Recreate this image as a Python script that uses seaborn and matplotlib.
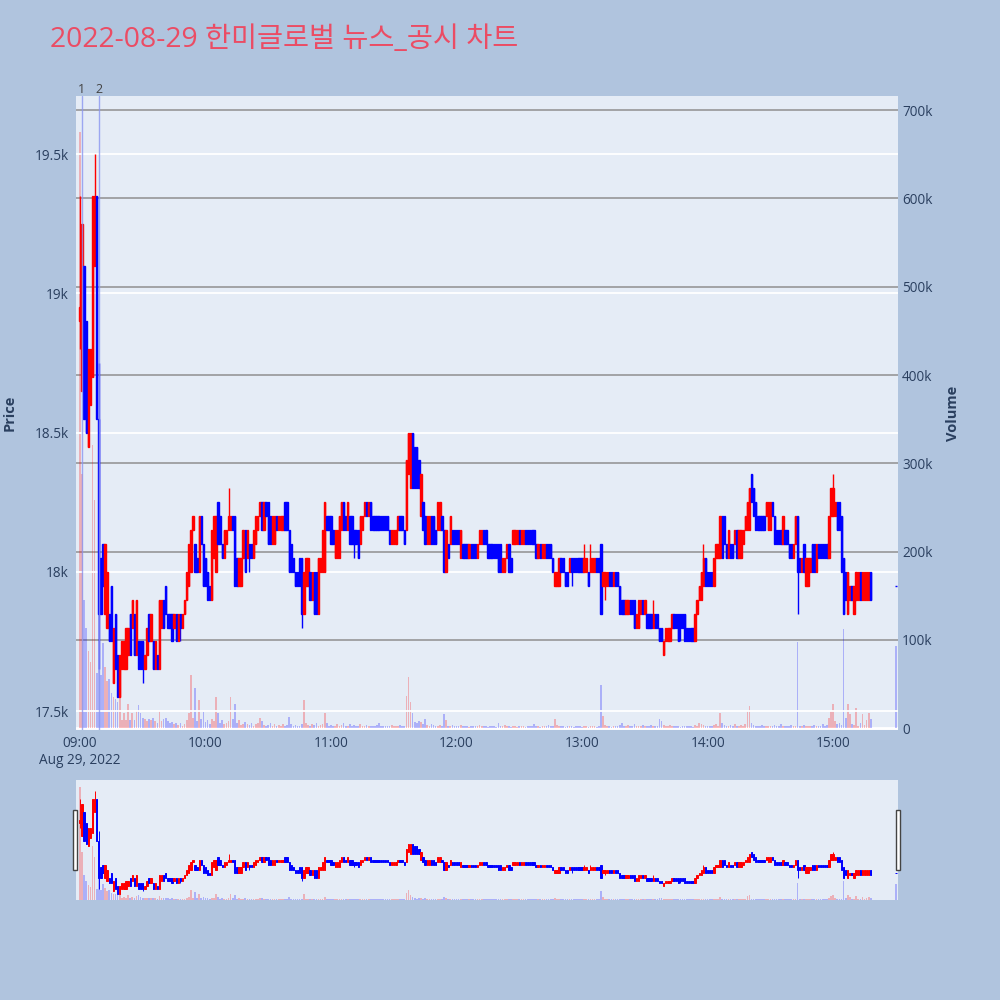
import numpy as np
import pandas as pd
import seaborn as sns
import matplotlib.pyplot as plt
from matplotlib.patches import Rectangle
import matplotlib.transforms as mtransforms

# minute candles from 09:00, prices in KRW
opens = [
    18900, 18650, 19100, 18900, 18450, 18600, 18700, 19100, 19350, 18550,
    18050, 18100, 17850, 17800, 17850, 17950, 17600, 17850, 17700, 17550,
    17650, 17650, 17650, 17700, 17850, 17800, 17850, 17700, 17750, 17750,
    17750, 17650, 17700, 17850, 17750, 17750, 17650, 17700, 17650, 17800,
    17900, 17950, 17850, 17850, 17850, 17800, 17850, 17750, 17850, 17800,
    17850, 17900, 17950, 18000, 18150, 18100, 18050, 18000, 18200, 18100,
    18050, 18000, 17950, 17900, 18050, 18000, 18250, 18200, 18100, 18050,
    18100, 18150, 18150, 18200, 18200, 18050, 17950, 17950, 18050, 18150,
    18050, 18100, 18100, 18050, 18100, 18150, 18200, 18250, 18150, 18250,
    18250, 18200, 18100, 18100, 18200, 18150, 18150, 18150, 18250, 18250,
    18150, 18100, 18050, 18000, 18000, 18050, 18050, 17850, 17950, 17950,
    18000, 17900, 18000, 18000, 17850, 18000, 18000, 18000, 18200, 18200,
    18200, 18150, 18050, 18050, 18050, 18150, 18250, 18200, 18150, 18200,
    18200, 18150, 18150, 18150, 18100, 18150, 18200, 18250, 18200, 18250,
    18200, 18200, 18200, 18200, 18200, 18200, 18200, 18200, 18150, 18100,
    18100, 18100, 18150, 18200, 18200, 18150, 18150, 18350, 18300, 18500,
    18450, 18450, 18400, 18200, 18250, 18200, 18100, 18100, 18200, 18200,
    18150, 18150, 18150, 18200, 18150, 18000, 18100, 18100, 18150, 18150,
    18150, 18150, 18050, 18100, 18100, 18100, 18050, 18100, 18100, 18100,
    18050, 18100, 18100, 18150, 18150, 18100, 18100, 18100, 18100, 18100,
    18100, 18100, 18000, 18000, 18050, 18100, 18050, 18100, 18100, 18100,
    18150, 18100, 18100, 18150, 18150, 18150, 18150, 18150, 18100, 18050,
    18100, 18050, 18050, 18100, 18100, 18100, 18050, 17950, 17950, 17950,
    18050, 18050, 18000, 18000, 18000, 18050, 18050, 18050, 18050, 18050,
    18050, 18000, 18000, 18000, 18000, 18000, 18000, 18050, 18050, 18100,
    17950, 17950, 17950, 18000, 18000, 17950, 18000, 18000, 17950, 17900,
    17900, 17850, 17850, 17900, 17900, 17900, 17800, 17800, 17850, 17900,
    17850, 17850, 17850, 17850, 17800, 17850, 17850, 17800, 17800, 17700,
    17750, 17750, 17750, 17800, 17850, 17850, 17850, 17850, 17850, 17850,
    17800, 17800, 17800, 17800, 17750, 17850, 17900, 17900, 17950, 18050,
    18000, 18000, 18000, 17950, 18050, 18050, 18050, 18200, 18200, 18100,
    18050, 18100, 18100, 18100, 18150, 18050, 18050, 18100, 18150, 18150,
    18150, 18350, 18300, 18250, 18200, 18200, 18200, 18200, 18200, 18150,
    18150, 18250, 18200, 18150, 18150, 18150, 18100, 18150, 18150, 18100,
    18100, 18050, 18100, 18200, 18050, 18000, 18100, 17950, 17950, 18000,
    18100, 18100, 18000, 18100, 18100, 18100, 18100, 18100, 18050, 18200,
    18200, 18200, 18250, 18250, 18200, 18050, 18000, 17850, 17900, 17950,
    17850, 17900, 17900, 18000, 17900, 17900, 17900, 17900, 18000,
]
closes = [
    18950, 19250, 18550, 18500, 18800, 18800, 19350, 19350, 18550, 17850,
    17850, 17950, 18100, 18000, 17750, 17750, 17800, 17650, 17550, 17700,
    17750, 17750, 17800, 17800, 17700, 17900, 17700, 17900, 17650, 17650,
    17650, 17700, 17800, 17750, 17850, 17650, 17750, 17650, 17900, 17900,
    17800, 17850, 17800, 17800, 17750, 17850, 17750, 17850, 17800, 17850,
    17900, 18000, 18100, 18150, 18200, 18000, 18000, 18200, 18100, 17950,
    17950, 17900, 17900, 18150, 18200, 18200, 18100, 18100, 18050, 18150,
    18150, 18200, 18200, 18150, 17950, 17950, 18050, 18050, 18150, 18000,
    18150, 18050, 18050, 18150, 18200, 18200, 18250, 18150, 18250, 18200,
    18100, 18100, 18200, 18200, 18150, 18200, 18200, 18200, 18150, 18150,
    18000, 18000, 18000, 17950, 17950, 17950, 17850, 18000, 18050, 18050,
    17900, 18000, 17850, 17850, 18050, 18050, 18150, 18250, 18150, 18150,
    18100, 18100, 18150, 18150, 18200, 18250, 18150, 18150, 18250, 18100,
    18100, 18100, 18100, 18050, 18200, 18200, 18250, 18200, 18250, 18150,
    18150, 18150, 18150, 18150, 18150, 18150, 18150, 18150, 18100, 18150,
    18150, 18150, 18200, 18150, 18150, 18100, 18400, 18500, 18500, 18300,
    18300, 18300, 18300, 18350, 18150, 18100, 18200, 18200, 18100, 18100,
    18100, 18250, 18250, 18150, 18000, 18150, 18050, 18200, 18100, 18100,
    18100, 18100, 18150, 18050, 18050, 18050, 18100, 18050, 18050, 18050,
    18100, 18150, 18150, 18100, 18100, 18050, 18050, 18050, 18050, 18050,
    18000, 18000, 18050, 18050, 18100, 18000, 18000, 18150, 18150, 18150,
    18100, 18150, 18150, 18100, 18100, 18100, 18100, 18100, 18050, 18100,
    18050, 18100, 18100, 18050, 18050, 18050, 18000, 18000, 18000, 18050,
    18000, 18000, 17950, 17950, 18050, 18000, 18000, 18000, 18000, 18000,
    18000, 18050, 18050, 17950, 18050, 18050, 18050, 18000, 18000, 17850,
    18000, 18000, 18000, 17950, 17950, 18000, 17950, 17950, 17850, 17850,
    17850, 17900, 17900, 17850, 17850, 17800, 17850, 17900, 17900, 17850,
    17900, 17800, 17800, 17800, 17850, 17800, 17800, 17750, 17750, 17750,
    17800, 17800, 17800, 17850, 17800, 17800, 17750, 17800, 17800, 17750,
    17750, 17750, 17750, 17750, 17850, 17900, 17950, 18000, 18050, 17950,
    17950, 17950, 17950, 18050, 18100, 18100, 18200, 18050, 18100, 18050,
    18150, 18050, 18050, 18150, 18050, 18150, 18150, 18150, 18200, 18250,
    18300, 18250, 18200, 18150, 18150, 18150, 18150, 18150, 18250, 18250,
    18250, 18200, 18100, 18100, 18100, 18100, 18200, 18100, 18100, 18050,
    18050, 18100, 18200, 18000, 18000, 18050, 18000, 18050, 18050, 18050,
    18000, 18000, 18100, 18050, 18050, 18050, 18050, 18050, 18200, 18300,
    18300, 18250, 18150, 18150, 18000, 17850, 17900, 18000, 17950, 17900,
    17950, 18000, 18000, 17900, 18000, 18000, 18000, 18000, 17900,
]
volumes = [
    675000, 288000, 145000, 113000, 88000, 75000, 321000, 258000, 63000, 158000,
    60000, 96000, 69000, 54000, 56000, 40000, 35000, 33000, 30000, 35000,
    9000, 17000, 9000, 28000, 9000, 17000, 9000, 20000, 26000, 17000,
    12000, 10000, 8000, 10000, 9000, 12000, 8000, 6000, 20000, 8000,
    10000, 12000, 8000, 6000, 7000, 5000, 6000, 4000, 6000, 3000,
    5000, 9000, 17000, 60000, 12000, 45000, 8000, 32000, 10000, 18000,
    7000, 9000, 5000, 10000, 8000, 35000, 17000, 6000, 9000, 5000,
    6000, 8000, 35000, 10000, 27000, 6000, 9000, 4000, 5000, 7000,
    5000, 4000, 6000, 3000, 5000, 6000, 12000, 8000, 4000, 3000,
    4000, 6000, 3000, 5000, 2000, 4000, 3000, 5000, 3000, 4000,
    13000, 5000, 3000, 4000, 2000, 3000, 5000, 32000, 6000, 4000,
    3000, 5000, 4000, 6000, 3000, 4000, 5000, 17000, 6000, 3000,
    4000, 2000, 3000, 5000, 3000, 4000, 6000, 3000, 2000, 5000,
    3000, 4000, 2000, 3000, 5000, 3000, 2000, 4000, 3000, 2000,
    3000, 2000, 4000, 6000, 2000, 3000, 2000, 3000, 2000, 4000,
    3000, 2000, 3000, 4000, 2000, 3000, 37000, 58000, 30000, 17000,
    7000, 6000, 8000, 7000, 5000, 11000, 4000, 3000, 5000, 4000,
    3000, 2000, 4000, 3000, 16000, 9000, 3000, 2000, 4000, 3000,
    2000, 3000, 4000, 2000, 3000, 2000, 1000, 2000, 3000, 2000,
    3000, 4000, 2000, 3000, 2000, 1000, 2000, 3000, 2000, 1000,
    6000, 3000, 2000, 4000, 3000, 2000, 1000, 3000, 2000, 1000,
    2000, 3000, 2000, 1000, 2000, 3000, 2000, 5000, 3000, 2000,
    1000, 2000, 3000, 2000, 4000, 2000, 3000, 11000, 4000, 2000,
    3000, 2000, 1000, 2000, 3000, 2000, 1000, 2000, 3000, 2000,
    1000, 3000, 2000, 1000, 2000, 3000, 2000, 1000, 3000, 49000,
    14000, 4000, 3000, 2000, 1000, 2000, 3000, 2000, 4000, 6000,
    3000, 2000, 4000, 3000, 2000, 5000, 2000, 3000, 2000, 4000,
    3000, 2000, 3000, 4000, 2000, 3000, 2000, 10000, 8000, 4000,
    3000, 2000, 4000, 3000, 2000, 3000, 2000, 1000, 3000, 2000,
    2000, 3000, 2000, 1000, 4000, 3000, 6000, 5000, 4000, 3000,
    2000, 3000, 2000, 4000, 5000, 3000, 17000, 6000, 4000, 3000,
    2000, 4000, 3000, 5000, 2000, 3000, 4000, 3000, 5000, 19000,
    25000, 6000, 4000, 3000, 2000, 3000, 4000, 2000, 3000, 2000,
    3000, 2000, 4000, 3000, 2000, 5000, 3000, 2000, 3000, 2000,
    4000, 2000, 3000, 98000, 3000, 2000, 4000, 3000, 2000, 3000,
    2000, 4000, 3000, 2000, 3000, 5000, 3000, 4000, 12000, 20000,
    27000, 8000, 5000, 6000, 4000, 112000, 12000, 28000, 16000, 5000,
    4000, 23000, 3000, 6000, 16000, 4000, 9000, 17000, 11000,
]
# wicks that reach beyond the body (minute index -> price)
wick_high = {0: 19350, 7: 19500, 9: 18750, 71: 18300, 241: 18100, 244: 18100,
             274: 17900, 298: 18100, 336: 18200, 360: 18350}
wick_low = {0: 18800, 9: 17650, 30: 17600, 48: 17750, 81: 18000, 106: 17800,
            131: 18050, 235: 17950, 251: 17900, 287: 17750, 343: 17850}

# closing auction
close_time = "15:30"
close_price = 17950
close_volume = 93000

news_times = ["09:00:50", "09:09:10"]
news_labels = ["1", "2"]

price_ticks = [17500, 18000, 18500, 19000, 19500]
price_labels = ["17.5k", "18k", "18.5k", "19k", "19.5k"]
vol_ticks = [0, 100000, 200000, 300000, 400000, 500000, 600000, 700000]
vol_labels = ["0", "100k", "200k", "300k", "400k", "500k", "600k", "700k"]
time_ticks = ["09:00", "10:00", "11:00", "12:00", "13:00", "14:00", "15:00"]

day = "2022-08-29"
start = pd.Timestamp(f"{day} 09:00")

times = list(pd.date_range(start, periods=len(closes), freq="min"))
times.append(pd.Timestamp(f"{day} {close_time}"))
df = pd.DataFrame({
    "time": times,
    "open": opens + [close_price],
    "close": closes + [close_price],
    "volume": volumes + [close_volume],
})
df["x"] = (df["time"] - start).dt.total_seconds() / 60
df["body_lo"] = df[["open", "close"]].min(axis=1)
df["body_hi"] = df[["open", "close"]].max(axis=1)
df["high"] = df["body_hi"]
df["low"] = df["body_lo"]
for k, v in wick_high.items():
    df.loc[k, "high"] = v
for k, v in wick_low.items():
    df.loc[k, "low"] = v
df["up"] = df["close"] > df["open"]

news_x = [(pd.Timestamp(f"{day} {t}") - start).total_seconds() / 60 for t in news_times]

sns.set_theme(style="white")
plt.rcParams["font.family"] = ["Open Sans", "Noto Sans CJK KR", "DejaVu Sans"]

BG = "#B0C4DE"
PLOT_BG = "#E5ECF6"
TXT = "#2a3f5f"
RED = "#FF0000"
BLUE = "#0000FF"

fig = plt.figure(figsize=(10, 10), dpi=100, facecolor=BG)

price_lim = (17432, 19709)
vol_lim = (-2000, 716000)
x_lim = (-1.9, 391)


def draw(ax_p, ax_v, lw, grid):
    ax_v.patch.set_visible(True)
    ax_v.set_facecolor(PLOT_BG)
    ax_p.patch.set_visible(False)
    ax_p.set_zorder(ax_v.get_zorder() + 1)
    cols = np.where(df["up"], RED, BLUE)
    ax_v.bar(df["x"], df["volume"], width=0.8, color=cols, alpha=0.25, linewidth=0, zorder=2)
    ax_p.vlines(df["x"], df["low"], df["high"], colors=cols, linewidth=lw, zorder=3)
    ax_p.bar(df["x"], df["body_hi"] - df["body_lo"], bottom=df["body_lo"],
             width=0.65, color=cols, edgecolor=cols, linewidth=lw, zorder=3)
    ax_p.set_xlim(*x_lim)
    ax_v.set_xlim(*x_lim)
    ax_p.set_ylim(*price_lim)
    ax_v.set_ylim(*vol_lim)
    for a in (ax_p, ax_v):
        for s in a.spines.values():
            s.set_visible(False)
        a.grid(False)
    if grid:
        for t in price_ticks:
            ax_p.axhline(t, color="white", linewidth=1.3, zorder=0)
        for t in vol_ticks[1:]:
            ax_v.axhline(t, color="#8f8f8f", linewidth=1.1, zorder=1)
        ax_v.axhline(vol_ticks[0], color="white", linewidth=2.0, zorder=1)


# main chart
ax_p = fig.add_axes([0.076, 0.270, 0.822, 0.634])
ax_v = ax_p.twinx()
draw(ax_p, ax_v, 1.0, True)

ax_p.set_yticks(price_ticks)
ax_p.set_yticklabels(price_labels)
ax_v.set_yticks(vol_ticks)
ax_v.set_yticklabels(vol_labels)
tick_x = [(pd.Timestamp(f"{day} {t}") - start).total_seconds() / 60 for t in time_ticks]
ax_p.set_xticks(tick_x)
ax_p.set_xticklabels([time_ticks[0] + "\nAug 29, 2022"] + time_ticks[1:])
ax_p.tick_params(axis="y", length=0, pad=5, labelsize=9.8, labelcolor=TXT)
ax_v.tick_params(axis="y", length=0, pad=3, labelsize=9.8, labelcolor=TXT)
ax_p.tick_params(axis="x", length=0, pad=4, labelsize=9.8, labelcolor=TXT)
for lab in ax_p.get_xticklabels():
    lab.set_linespacing(1.2)
ax_p.set_ylabel("")
ax_v.set_ylabel("")

trans = mtransforms.blended_transform_factory(ax_p.transData, ax_p.transAxes)
for nx, nl in zip(news_x, news_labels):
    ax_p.axvline(nx, color="#8a96f0", linewidth=1.0, alpha=0.8, zorder=4)
    ax_p.text(nx, 1.0, nl, transform=trans, ha="center", va="bottom",
              fontsize=9, color="#444444")

fig.text(0.010, 0.587, "Price", rotation=90, ha="center", va="center",
         fontsize=10.5, fontweight="bold", color=TXT)
fig.text(0.953, 0.587, "Volume", rotation=90, ha="center", va="center",
         fontsize=10.5, fontweight="bold", color=TXT)

fig.text(0.050, 0.960, f"{day} 한미글로벌 뉴스_공시 차트", ha="left", va="center",
         fontsize=20.4, color="#EB4C64", family=["Open Sans", "Noto Sans CJK KR", "DejaVu Sans"])

# range slider
ax_rp = fig.add_axes([0.076, 0.100, 0.822, 0.120])
ax_rv = ax_rp.twinx()
draw(ax_rp, ax_rv, 0.7, False)
ax_rp.tick_params(axis="both", which="both", length=0, labelbottom=False, labelleft=False)
ax_rv.tick_params(axis="both", which="both", length=0, labelright=False)
for hx in (0.073, 0.896):
    fig.patches.append(Rectangle((hx, 0.130), 0.004, 0.060, transform=fig.transFigure,
                                 facecolor="white", edgecolor="#444444", linewidth=1.0))

fig.savefig("out.png", dpi=100, facecolor=BG)
